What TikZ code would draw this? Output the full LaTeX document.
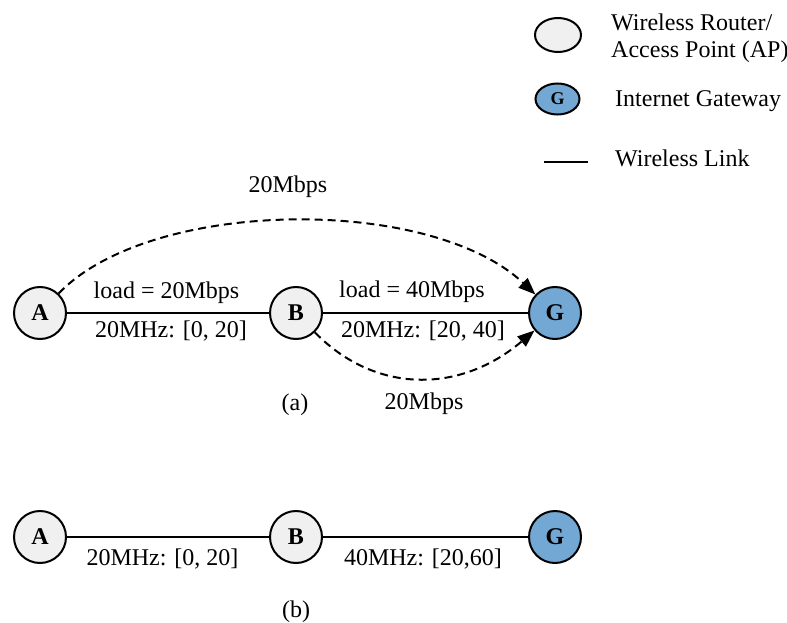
\documentclass[tikz,border=0pt]{standalone}
\usepackage{fontspec}
\setmainfont{Liberation Serif}
\usetikzlibrary{arrows.meta,shapes.geometric}
\definecolor{apfill}{RGB}{240,240,240}
\definecolor{gwfill}{RGB}{116,168,212}
\begin{document}
\begin{tikzpicture}[x=1pt,y=-1pt,
  ap/.style={circle, draw, line width=2pt, fill=apfill, minimum size=52pt,
    inner sep=0pt, font=\fontsize{24}{28}\selectfont\bfseries},
  gw/.style={ap, fill=gwfill},
  link/.style={line width=2pt},
  flow/.style={line width=2pt, dash pattern=on 8pt off 5pt,
    -{Triangle[length=17pt,width=13pt]}},
  lbl/.style={font=\fontsize{24}{28}\selectfont, inner sep=0pt, anchor=base},
  legtxt/.style={lbl, anchor=base west},
]
\useasboundingbox (0,0) rectangle (787,623);

% legend
\node[ap, ellipse, minimum width=46pt, minimum height=34pt] (legAP) at (558,35) {};
\node[gw, ellipse, minimum width=44pt, minimum height=31pt,
      font=\fontsize{18}{21}\selectfont\bfseries] (legGW) at (557.5,99) {G};
\coordinate (legL1) at (544,162);
\coordinate (legL2) at (588,162);
\draw[link] (legL1) -- (legL2);
\node[legtxt] (legAPa) at (611,31) {Wireless Router/};
\node[legtxt] (legAPb) at (611,58) {Access Point (AP)};
\node[legtxt] (legGWt) at (615,107) {Internet Gateway};
\node[legtxt] (legLt) at (615,167) {Wireless Link};

% (a) two flows over the chain A - B - G
\node[ap] (A1) at (40,313) {A};
\node[ap] (B1) at (296,313) {B};
\node[gw] (G1) at (555,313) {G};
\draw[link] (A1) -- node[lbl, xshift=-1.5pt, yshift=15pt] {load = 20Mbps}
                    node[lbl, xshift=3pt, yshift=-24pt] {20MHz: [0, 20]} (B1);
\draw[link] (B1) -- node[lbl, xshift=-13.5pt, yshift=16pt] {load = 40Mbps}
                    node[lbl, xshift=-2.5pt, yshift=-24pt] {20MHz: [20, 40]} (G1);
\draw[flow] (A1) .. controls (150,198) and (430,195) .. (G1);
\draw[flow] (B1) .. controls (375,394) and (460,394) .. (G1);
\node[lbl] (rateA) at (288,193) {20Mbps};
\node[lbl] (rateB) at (424,409) {20Mbps};
\node[lbl] (capA) at (295,410) {(a)};

% (b) channel widths after reassignment
\node[ap] (A2) at (40,537) {A};
\node[ap] (B2) at (296,537) {B};
\node[gw] (G2) at (555,537) {G};
\draw[link] (A2) -- node[lbl, xshift=-5.5pt, yshift=-28pt] {20MHz: [0, 20]} (B2);
\draw[link] (B2) -- node[lbl, xshift=-2.5pt, yshift=-28pt] {40MHz: [20,60]} (G2);
\node[lbl] (capB) at (296,617) {(b)};
\end{tikzpicture}
\end{document}
